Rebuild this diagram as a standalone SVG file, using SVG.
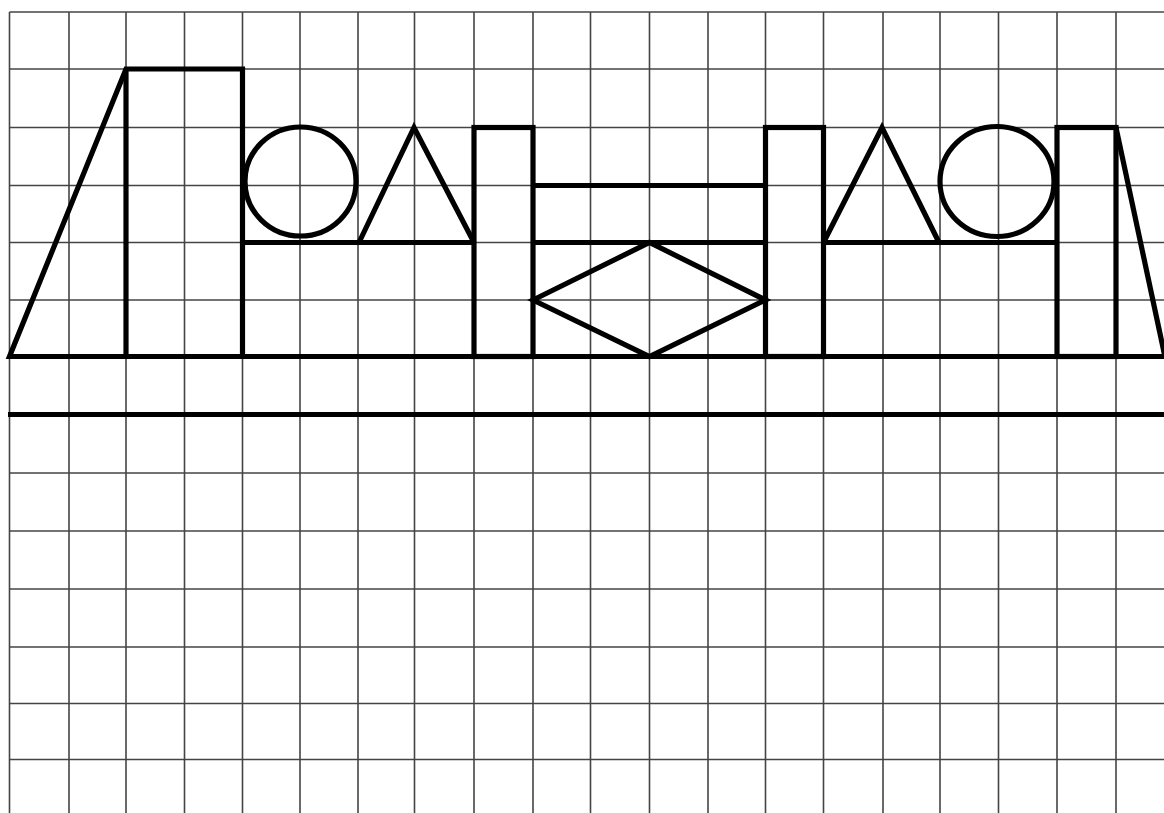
<svg xmlns="http://www.w3.org/2000/svg" width="1164" height="813" viewBox="0 0 1164 813">
<style>
.grid line{stroke:#444;stroke-width:1.6}
.thick{fill:none;stroke:#000;stroke-width:5.2;stroke-linejoin:miter;stroke-linecap:butt}
</style>
<rect width="1164" height="813" fill="#fff"/>
<g id="grid" class="grid">
<line x1="9.5" y1="12" x2="9.5" y2="813"/>
<line x1="69" y1="12" x2="69" y2="813"/>
<line x1="126" y1="12" x2="126" y2="813"/>
<line x1="184.5" y1="12" x2="184.5" y2="813"/>
<line x1="242.5" y1="12" x2="242.5" y2="813"/>
<line x1="300" y1="12" x2="300" y2="813"/>
<line x1="358" y1="12" x2="358" y2="813"/>
<line x1="414.5" y1="12" x2="414.5" y2="813"/>
<line x1="474" y1="12" x2="474" y2="813"/>
<line x1="533" y1="12" x2="533" y2="813"/>
<line x1="590.5" y1="12" x2="590.5" y2="813"/>
<line x1="649.5" y1="12" x2="649.5" y2="813"/>
<line x1="708" y1="12" x2="708" y2="813"/>
<line x1="765.5" y1="12" x2="765.5" y2="813"/>
<line x1="823.5" y1="12" x2="823.5" y2="813"/>
<line x1="883" y1="12" x2="883" y2="813"/>
<line x1="940" y1="12" x2="940" y2="813"/>
<line x1="998.5" y1="12" x2="998.5" y2="813"/>
<line x1="1057" y1="12" x2="1057" y2="813"/>
<line x1="1116" y1="12" x2="1116" y2="813"/>
<line x1="9.5" y1="12" x2="1164" y2="12"/>
<line x1="9.5" y1="69" x2="1164" y2="69"/>
<line x1="9.5" y1="127.5" x2="1164" y2="127.5"/>
<line x1="9.5" y1="185.5" x2="1164" y2="185.5"/>
<line x1="9.5" y1="242.5" x2="1164" y2="242.5"/>
<line x1="9.5" y1="300" x2="1164" y2="300"/>
<line x1="9.5" y1="356.5" x2="1164" y2="356.5"/>
<line x1="9.5" y1="414.5" x2="1164" y2="414.5"/>
<line x1="9.5" y1="473" x2="1164" y2="473"/>
<line x1="9.5" y1="531" x2="1164" y2="531"/>
<line x1="9.5" y1="589" x2="1164" y2="589"/>
<line x1="9.5" y1="647" x2="1164" y2="647"/>
<line x1="9.5" y1="703.5" x2="1164" y2="703.5"/>
<line x1="9.5" y1="759.5" x2="1164" y2="759.5"/>
</g>
<g id="shapes" class="thick">
<path id="base" d="M1166 356.5 L9.5 356.5 L126 69 L242.5 69 L242.5 356.5"/>
<line id="tall-left" x1="126" y1="69" x2="126" y2="356.5"/>
<line id="ground" x1="8" y1="414.5" x2="1164" y2="414.5"/>
<ellipse id="circle-left" cx="300.5" cy="181.5" rx="55.5" ry="54.5"/>
<line id="shelf-left" x1="242.5" y1="242.5" x2="474" y2="242.5"/>
<path id="triangle-left" d="M359 242.5 L414 127.5 L474 242.5"/>
<rect id="rect-a" x="474" y="127.5" width="59" height="229"/>
<line id="bar-top" x1="533" y1="185.5" x2="765.5" y2="185.5"/>
<line id="bar-mid" x1="533" y1="242.5" x2="765.5" y2="242.5"/>
<path id="diamond" d="M533 300 L649.5 242.5 L765.5 300 L649.5 356.5 Z"/>
<rect id="rect-b" x="765.5" y="127.5" width="58" height="229"/>
<path id="triangle-right" d="M823.5 242.5 L882 127.5 L939 242.5"/>
<ellipse id="circle-right" cx="997" cy="181.5" rx="57" ry="55"/>
<line id="shelf-right" x1="823.5" y1="242.5" x2="1057" y2="242.5"/>
<rect id="rect-c" x="1057" y="127.5" width="59" height="229"/>
<line id="slant-right" x1="1116" y1="127.5" x2="1165" y2="357"/>
</g>
</svg>
